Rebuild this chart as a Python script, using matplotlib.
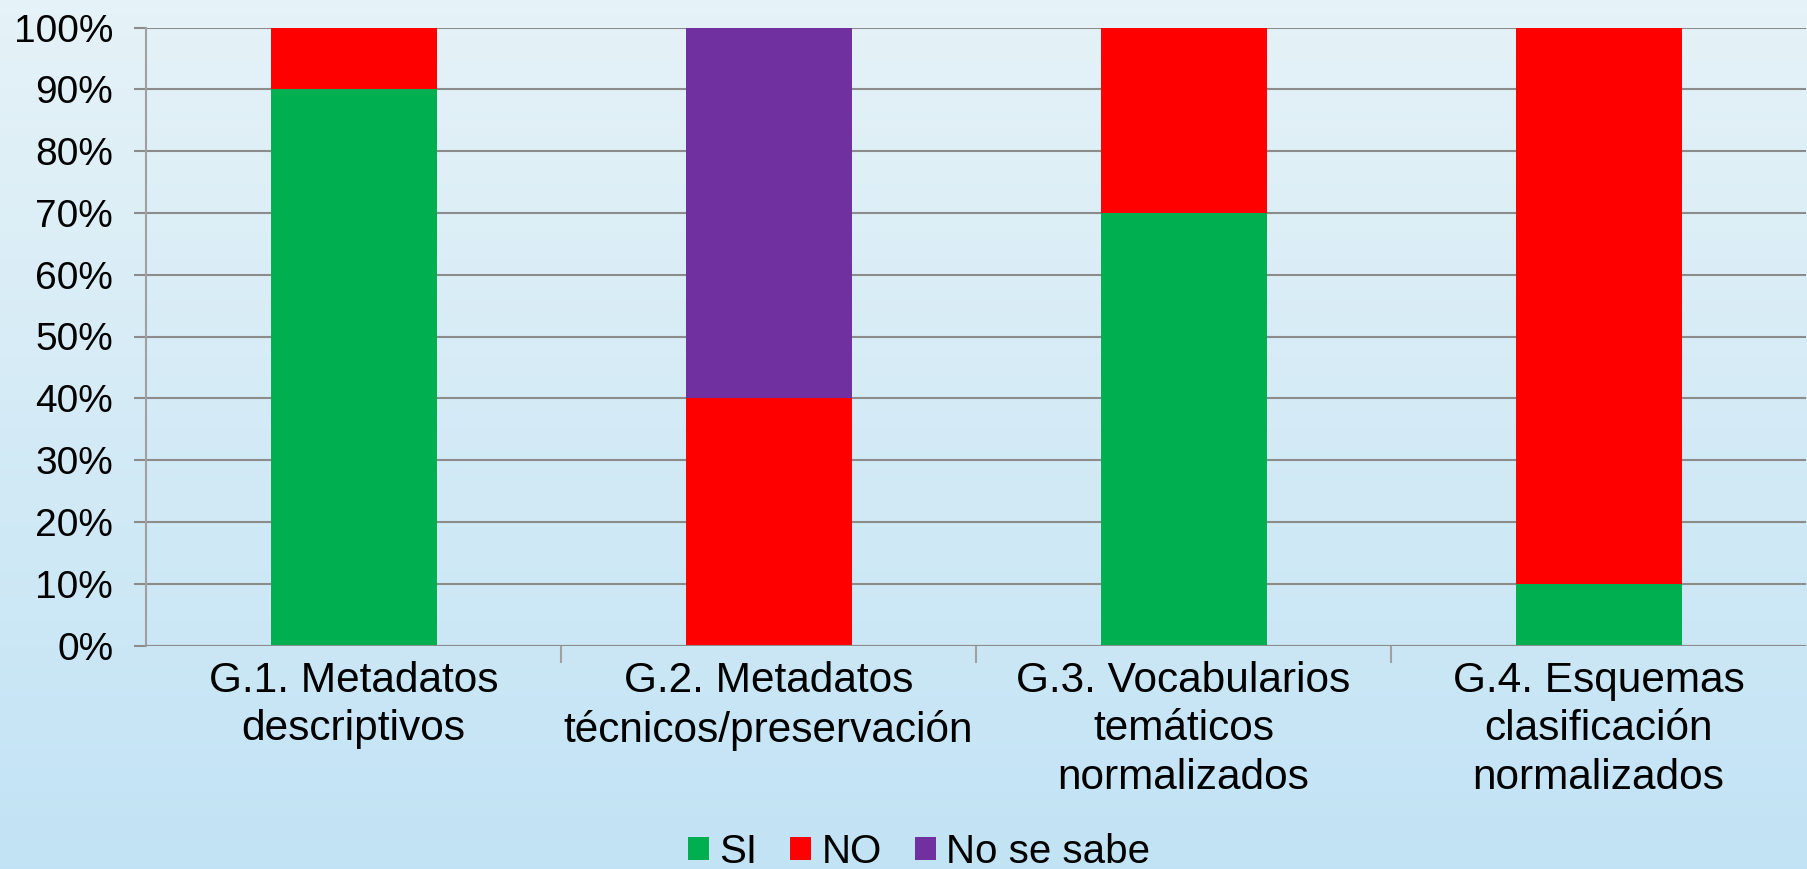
import numpy as np
import matplotlib.pyplot as plt
from matplotlib.ticker import PercentFormatter

plt.rcParams['font.family'] = ['Liberation Sans', 'DejaVu Sans']

# Data (percent)
categories = ['G.1. Metadatos\ndescriptivos',
              'G.2. Metadatos\ntécnicos/preservación',
              'G.3. Vocabularios\ntemáticos\nnormalizados',
              'G.4. Esquemas\nclasificación\nnormalizados']
si = [90, 0, 70, 10]
no = [10, 40, 30, 90]
no_sabe = [0, 60, 0, 0]

series = [('SI', si, '#00B050'), ('NO', no, '#FF0000'), ('No se sabe', no_sabe, '#7030A0')]

fig = plt.figure(figsize=(18.08, 8.69), dpi=100)

# light blue gradient background
bg = fig.add_axes([0, 0, 1, 1], zorder=-10)
grad = np.linspace(0, 1, 256).reshape(-1, 1)
top = np.array([0.90, 0.95, 0.97])
bottom = np.array([0.76, 0.89, 0.96])
img = top + (bottom - top) * grad[..., None]
bg.imshow(img, aspect='auto', extent=[0, 1, 0, 1])
bg.axis('off')

ax = fig.add_axes([146 / 1808, 1 - 645.5 / 869, 1660 / 1808, 618 / 869])
ax.patch.set_alpha(0)

x = np.arange(len(categories))
base = np.zeros(len(categories))
for name, vals, col in series:
    ax.bar(x, vals, width=0.4, bottom=base, color=col, label=name, zorder=3)
    base += np.array(vals)

ax.set_xlim(-0.5, len(categories) - 0.5)
ax.set_ylim(0, 100)
ax.set_yticks(np.arange(0, 101, 10))
ax.yaxis.set_major_formatter(PercentFormatter(decimals=0))
ax.grid(axis='y', color='#8c8c8c', linewidth=1.5, zorder=0)

for s in ['top', 'right', 'bottom']:
    ax.spines[s].set_visible(False)
ax.spines['left'].set_color('#a0a0a0')
ax.spines['left'].set_linewidth(1.5)
ax.axhline(0, color='#8c8c8c', linewidth=1.5, zorder=4)

ax.tick_params(axis='y', length=8.6, width=1.5, color='#8c8c8c', labelsize=28, pad=15)
ax.set_xticks(x)
ax.set_xticklabels(categories, fontsize=30.5, linespacing=1.28)
ax.tick_params(axis='x', length=0, pad=11)
ax.set_xticks(np.arange(0.5, len(categories) - 0.5, 1), minor=True)
ax.tick_params(axis='x', which='minor', length=12, width=1.5, color='#a0a0a0')

leg = fig.legend(loc='center', bbox_to_anchor=(919 / 1808, 1 - 852 / 869), ncol=3,
                 frameon=False, fontsize=29, handlelength=0.52, handleheight=0.52,
                 handletextpad=0.25, columnspacing=0.82)

fig.savefig('out.png', dpi=100)
